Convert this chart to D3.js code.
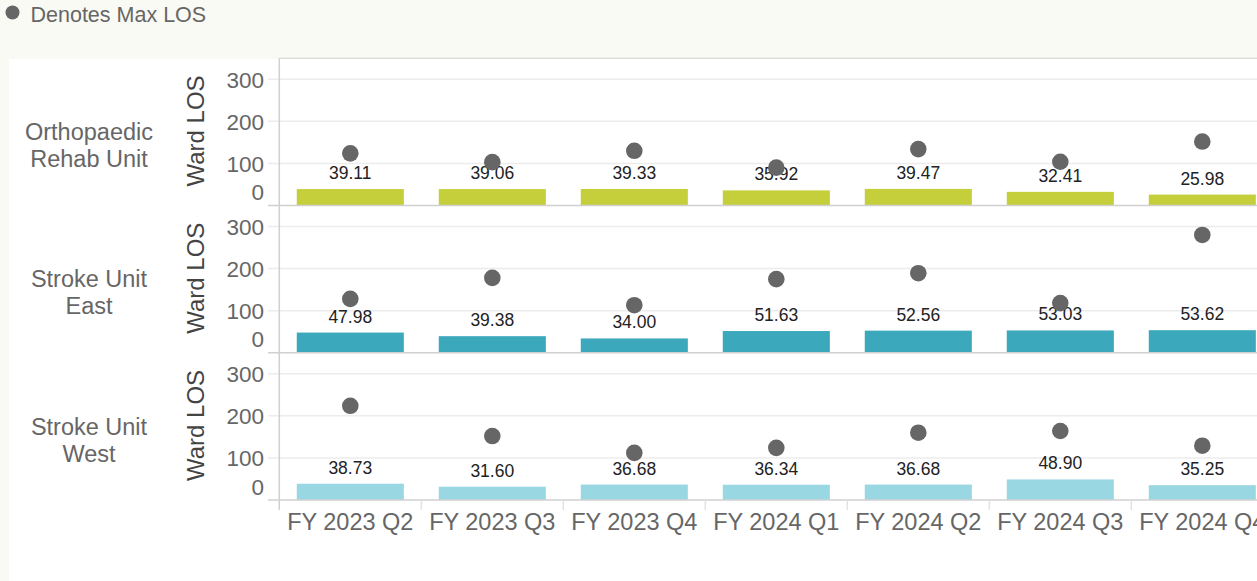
<!DOCTYPE html>
<html>
<head>
<meta charset="utf-8">
<script src="https://cdn.jsdelivr.net/npm/d3@7"></script>
<style>
  body { margin: 0; background: #fafaf5; }
  svg { display: block; font-family: "Liberation Sans", Arial, sans-serif; }
</style>
</head>
<body>
<svg width="1257" height="581"></svg>
<script>
var quarters = ["FY 2023 Q2", "FY 2023 Q3", "FY 2023 Q4", "FY 2024 Q1", "FY 2024 Q2", "FY 2024 Q3", "FY 2024 Q4"];
var wards = [["Orthopaedic", "Rehab Unit"], ["Stroke Unit", "East"], ["Stroke Unit", "West"]];
var wardColors = ["#c5cf3b", "#3ba8bc", "#99d8e3"];
var orthoAvg = [39.11, 39.06, 39.33, 35.92, 39.47, 32.41, 25.98];
var eastAvg = [47.98, 39.38, 34.00, 51.63, 52.56, 53.03, 53.62];
var westAvg = [38.73, 31.60, 36.68, 36.34, 36.68, 48.90, 35.25];
var orthoMax = [124, 103, 130, 90, 134, 104, 152];
var eastMax = [128, 178, 113, 175, 189, 118, 280];
var westMax = [224, 152, 112, 124, 160, 164, 129];
var yTicks = [0, 100, 200, 300];

var avgs = [orthoAvg, eastAvg, westAvg];
var maxes = [orthoMax, eastMax, westMax];

var svg = d3.select("svg");
var axisX = 279.3, panelH = 147.25, firstBottom = 205.5;

svg.append("rect").attr("width", 1257).attr("height", 581).attr("fill", "#fafaf5");
svg.append("rect").attr("x", 9).attr("y", 59).attr("width", 1248).attr("height", 522).attr("fill", "#ffffff");

// legend
svg.append("circle").attr("cx", 12.5).attr("cy", 12.5).attr("r", 7).attr("fill", "#666");
svg.append("text").attr("x", 30.5).attr("y", 21.5).attr("font-size", 21.5).attr("fill", "#666").text("Denotes Max LOS");

var x = d3.scaleBand().domain(quarters).range([axisX, axisX + 142 * quarters.length])
  .paddingInner(0.246).paddingOuter(0.123);

var bottomY = firstBottom + panelH * (wards.length - 1);

// top border
svg.append("line").attr("x1", axisX).attr("x2", 1257).attr("y1", firstBottom - panelH).attr("y2", firstBottom - panelH)
  .attr("stroke", "#ddd").attr("stroke-width", 1.5);

wards.forEach(function(ward, i) {
  var bottom = firstBottom + panelH * i;
  var y = d3.scaleLinear().domain([0, 350]).range([bottom, bottom - panelH]);
  var g = svg.append("g");

  g.selectAll(".grid").data(yTicks.filter(function(d) { return d > 0; })).enter().append("line")
    .attr("x1", 268).attr("x2", 1257).attr("y1", function(d) { return y(d); }).attr("y2", function(d) { return y(d); })
    .attr("stroke", "#ececec").attr("stroke-width", 1.5);

  g.selectAll(".tick").data(yTicks).enter().append("text")
    .attr("x", 264).attr("y", function(d) { return d === 0 ? y(d) - 5.5 : y(d) + 8.5; })
    .attr("text-anchor", "end").attr("font-size", 22.5).attr("fill", "#666").text(function(d) { return d; });

  g.selectAll(".bar").data(quarters).enter().append("rect")
    .attr("x", function(d) { return x(d); }).attr("width", x.bandwidth())
    .attr("y", function(d, j) { return y(avgs[i][j]); })
    .attr("height", function(d, j) { return y(0) - y(avgs[i][j]); })
    .attr("fill", wardColors[i]);

  g.append("line").attr("x1", 268).attr("x2", 1257).attr("y1", y(0)).attr("y2", y(0))
    .attr("stroke", "#d0d0d0").attr("stroke-width", 1.5);

  g.selectAll(".val").data(quarters).enter().append("text")
    .attr("x", function(d) { return x(d) + x.bandwidth() / 2; })
    .attr("y", function(d, j) { return y(avgs[i][j]) - 10; })
    .attr("text-anchor", "middle").attr("font-size", 17.5).attr("fill", "#222")
    .text(function(d, j) { return avgs[i][j].toFixed(2); });

  g.selectAll(".dot").data(quarters).enter().append("circle")
    .attr("cx", function(d) { return x(d) + x.bandwidth() / 2; })
    .attr("cy", function(d, j) { return y(maxes[i][j]); })
    .attr("r", 8.3).attr("fill", "#666");

  g.append("text").attr("transform", "translate(204," + (bottom - 74.5) + ") rotate(-90)")
    .attr("text-anchor", "middle").attr("font-size", 24).attr("fill", "#444").text("Ward LOS");

  g.selectAll(".lab").data(ward).enter().append("text")
    .attr("x", 89).attr("y", function(d, k) { return bottom - 65.5 + k * 27; })
    .attr("text-anchor", "middle").attr("font-size", 23.5).attr("fill", "#666").text(function(d) { return d; });
});

// left axis + column separators
svg.append("line").attr("x1", axisX).attr("x2", axisX).attr("y1", firstBottom - panelH).attr("y2", bottomY + 10)
  .attr("stroke", "#d0d0d0").attr("stroke-width", 1.5);
svg.selectAll(".sep").data(quarters).enter().append("line")
  .attr("x1", function(d) { return x(d) + x.bandwidth() + x.step() * 0.123; })
  .attr("x2", function(d) { return x(d) + x.bandwidth() + x.step() * 0.123; })
  .attr("y1", bottomY).attr("y2", bottomY + 10).attr("stroke", "#e2e2e2").attr("stroke-width", 1.5);

svg.selectAll(".xl").data(quarters).enter().append("text")
  .attr("x", function(d) { return x(d) + x.bandwidth() / 2; }).attr("y", 530)
  .attr("text-anchor", "middle").attr("font-size", 23.5).attr("fill", "#666").text(function(d) { return d; });
</script>
</body>
</html>
